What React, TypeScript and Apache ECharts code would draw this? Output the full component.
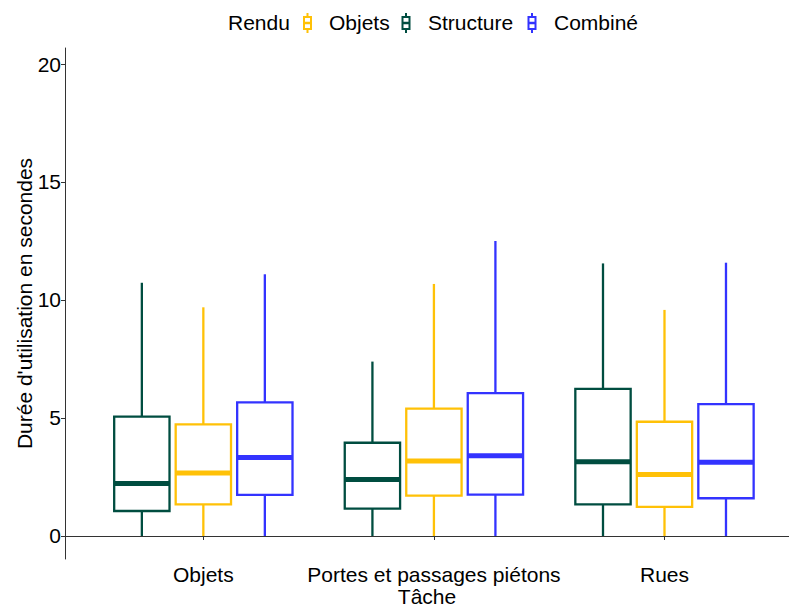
import React, { useEffect, useRef } from "react";
import * as echarts from "echarts";

const categories = ["Objets", "Portes et passages piétons", "Rues"];
const yTicks = [0, 5, 10, 15, 20];
// each row: [min, q1, median, q3, max]
const structureStats = [
  [0, 1.06, 2.22, 5.06, 10.73],
  [0, 1.16, 2.39, 3.95, 7.39],
  [0, 1.34, 3.15, 6.23, 11.55],
];
const objetsStats = [
  [0, 1.34, 2.67, 4.73, 9.69],
  [0, 1.71, 3.18, 5.4, 10.68],
  [0, 1.23, 2.61, 4.84, 9.58],
];
const combineStats = [
  [0, 1.74, 3.33, 5.66, 11.09],
  [0, 1.75, 3.4, 6.05, 12.5],
  [0, 1.6, 3.12, 5.59, 11.58],
];

const seriesDefs = [
  { name: "Structure", stats: structureStats, color: "#004D40", offset: -0.2667 },
  { name: "Objets", stats: objetsStats, color: "#FFC107", offset: 0 },
  { name: "Combiné", stats: combineStats, color: "#3333FF", offset: 0.2667 },
];
const legendOrder = ["Objets", "Structure", "Combiné"];

const FONT = "Liberation Sans, Arial, sans-serif";
const FS = 21;
const BOX_W = 0.24;

export default function App() {
  const ref = useRef<HTMLDivElement>(null);
  useEffect(() => {
    if (!ref.current) return;
    const chart = echarts.init(ref.current, undefined, { renderer: "svg" });

    const series = seriesDefs.map((s) => ({
      type: "custom",
      name: s.name,
      data: s.stats.map((st, i) => [i + 1 + s.offset, ...st]),
      encode: { x: 0, y: [1, 2, 3, 4, 5] },
      renderItem: (params: any, api: any) => {
        const x = api.value(0);
        const mn = api.value(1);
        const q1 = api.value(2);
        const md = api.value(3);
        const q3 = api.value(4);
        const mx = api.value(5);
        const pMin = api.coord([x, mn]);
        const pMax = api.coord([x, mx]);
        const pQ1L = api.coord([x - BOX_W / 2, q1]);
        const pQ3R = api.coord([x + BOX_W / 2, q3]);
        const pMdL = api.coord([x - BOX_W / 2, md]);
        const pMdR = api.coord([x + BOX_W / 2, md]);
        const pQ1 = api.coord([x, q1]);
        const pQ3 = api.coord([x, q3]);
        const stroke = s.color;
        return {
          type: "group",
          children: [
            {
              type: "line",
              shape: { x1: pMax[0], y1: pMax[1], x2: pQ3[0], y2: pQ3[1] },
              style: { stroke, lineWidth: 2.3 },
            },
            {
              type: "line",
              shape: { x1: pQ1[0], y1: pQ1[1], x2: pMin[0], y2: pMin[1] },
              style: { stroke, lineWidth: 2.3 },
            },
            {
              type: "rect",
              shape: {
                x: pQ1L[0],
                y: pQ3R[1],
                width: pQ3R[0] - pQ1L[0],
                height: pQ1L[1] - pQ3R[1],
              },
              style: { fill: "#ffffff", stroke, lineWidth: 2.3 },
            },
            {
              type: "line",
              shape: { x1: pMdL[0], y1: pMdL[1], x2: pMdR[0], y2: pMdR[1] },
              style: { stroke, lineWidth: 5 },
            },
          ],
        };
      },
    }));

    const colorOf: Record<string, string> = {};
    seriesDefs.forEach((s) => (colorOf[s.name] = s.color));
    const legendItems: any[] = [
      {
        type: "text",
        x: 228,
        y: 22,
        style: { text: "Rendu", font: `${FS}px ${FONT}`, fill: "#000", textVerticalAlign: "middle" },
      },
    ];
    const iconX = [307.5, 406, 532];
    const textX = [329, 428, 554];
    legendOrder.forEach((name, i) => {
      const c = colorOf[name];
      const cx = iconX[i];
      legendItems.push(
        { type: "line", shape: { x1: cx, y1: 13, x2: cx, y2: 33 }, style: { stroke: c, lineWidth: 2 } },
        { type: "rect", shape: { x: cx - 3.5, y: 17, width: 7, height: 12 }, style: { fill: "#fff", stroke: c, lineWidth: 2 } },
        { type: "line", shape: { x1: cx - 3.5, y1: 23, x2: cx + 3.5, y2: 23 }, style: { stroke: c, lineWidth: 2.5 } },
        {
          type: "text",
          x: textX[i],
          y: 22,
          style: { text: name, font: `${FS}px ${FONT}`, fill: "#000", textVerticalAlign: "middle" },
        }
      );
    });

    chart.setOption({
      animation: false,
      backgroundColor: "#ffffff",
      textStyle: { fontFamily: FONT },
      grid: { left: 65, right: 0, top: 48, bottom: 48, containLabel: false, outerBoundsMode: "none" },
      xAxis: {
        type: "value",
        min: 0.4,
        max: 3.54,
        name: "Tâche",
        nameLocation: "middle",
        nameGap: 27,
        nameMoveOverlap: false,
        nameTextStyle: { fontSize: FS, color: "#000", fontFamily: FONT, lineHeight: 21 },
        axisLine: { show: true, lineStyle: { color: "#333", width: 1 } },
        axisTick: { show: true, customValues: [1, 2, 3], length: 4, lineStyle: { color: "#333" } },
        axisLabel: {
          customValues: [1, 2, 3],
          formatter: (v: number) => categories[Math.round(v) - 1] ?? "",
          fontSize: FS,
          color: "#000",
          margin: 5,
          fontFamily: FONT,
        },
        splitLine: { show: false },
      },
      yAxis: {
        type: "value",
        min: -0.975,
        max: 20.678,
        name: "Durée d'utilisation en secondes",
        nameLocation: "middle",
        nameGap: 30,
        nameMoveOverlap: false,
        nameTextStyle: { fontSize: FS, color: "#000", fontFamily: FONT },
        axisLine: { show: true, lineStyle: { color: "#333", width: 1 } },
        axisTick: { show: true, customValues: yTicks, length: 4, lineStyle: { color: "#333" } },
        axisLabel: {
          customValues: yTicks,
          fontSize: FS,
          color: "#000",
          margin: 4,
          fontFamily: FONT,
        },
        splitLine: { show: false },
      },
      graphic: legendItems,
      series,
    });
    return () => chart.dispose();
  }, []);
  return (
    <div
      ref={ref}
      style={{ position: "fixed", left: 0, top: 0, width: 789, height: 607 }}
    />
  );
}
